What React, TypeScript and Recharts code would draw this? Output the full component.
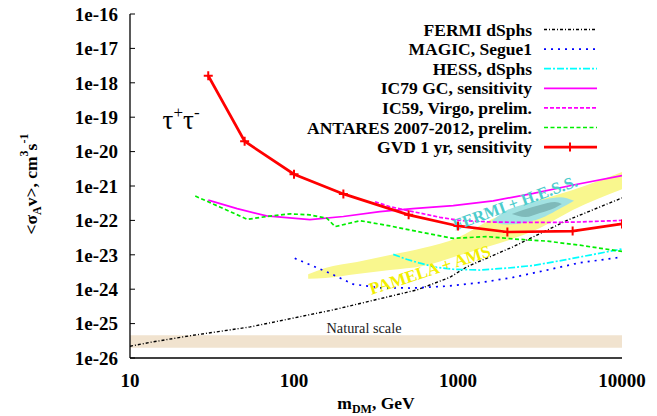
import React from "react";
import {
  ComposedChart,
  Line,
  Area,
  XAxis,
  YAxis,
  ReferenceArea,
  ReferenceDot,
  Legend,
} from "recharts";

const FONT = "'Liberation Serif', 'Times New Roman', serif";

// axis ticks
const massTicks = [10, 100, 1000, 10000];
const massMinorTicks = [
  20, 30, 40, 50, 60, 70, 80, 90, 200, 300, 400, 500, 600, 700, 800, 900,
  2000, 3000, 4000, 5000, 6000, 7000, 8000, 9000,
];
const sigmaTicks = [1e-26, 1e-25, 1e-24, 1e-23, 1e-22, 1e-21, 1e-20, 1e-19, 1e-18, 1e-17, 1e-16];

// FERMI dSphs
const fermiMass = [10, 13, 23, 54, 173, 560, 890, 1135, 2160, 4620, 10000];
const fermiSigma = [2.2e-26, 2.8e-26, 4.4e-26, 8e-26, 2.5e-25, 9.5e-25, 2.2e-24, 4.5e-24, 1.7e-23, 1.0e-22, 4.5e-22];

// MAGIC, Segue1
const magicMass = [101, 166, 229, 334, 530, 857, 1360, 2160, 3490, 5540, 8810, 10000];
const magicSigma = [7.9e-24, 2.9e-24, 1.4e-24, 1.1e-24, 1.08e-24, 1.23e-24, 1.55e-24, 2.2e-24, 3.6e-24, 5.9e-24, 7.9e-24, 8.6e-24];

// HESS, dSphs
const hessMass = [403, 486, 587, 741, 935, 1360, 1980, 2880, 4390, 6380, 10000];
const hessSigma = [1.03e-23, 7.4e-24, 5.7e-24, 4.3e-24, 3.8e-24, 3.6e-24, 4.1e-24, 4.9e-24, 7.0e-24, 9.8e-24, 1.48e-23];

// IC79 GC, sensitivity
const ic79Mass = [30, 45, 68, 125, 200, 334, 530, 935, 1640, 2880, 5050, 10000];
const ic79Sigma = [3.9e-22, 2.2e-22, 1.35e-22, 1.05e-22, 1.3e-22, 1.8e-22, 2.2e-22, 2.7e-22, 3.7e-22, 6.1e-22, 1.07e-21, 2.0e-21];

// IC59, Virgo, prelim.
const ic59Mass = [312, 385, 530, 776, 1020, 1640, 3470, 5540, 10000];
const ic59Sigma = [3.5e-22, 2.5e-22, 1.8e-22, 1.23e-22, 1.0e-22, 8.9e-23, 8.7e-23, 9.0e-23, 1.0e-22];

// ANTARES 2007-2012, prelim.
const antaresMass = [25, 35, 52, 68, 95, 125, 159, 178, 253, 385, 614, 935, 1500, 2160, 3470, 5540, 10000];
const antaresSigma = [5.1e-22, 2.5e-22, 1.07e-22, 1.3e-22, 1.55e-22, 1.45e-22, 1.15e-22, 6.6e-23, 9.8e-23, 6.9e-23, 4.4e-23, 3.0e-23, 3.4e-23, 2.9e-23, 2.5e-23, 1.9e-23, 1.25e-23];

// GVD 1 yr, sensitivity
const gvdMass = [30, 50, 100, 200, 500, 1000, 2000, 5000, 10000];
const gvdSigma = [1.6e-18, 2.0e-20, 2.2e-21, 5.9e-22, 1.45e-22, 6.9e-23, 4.6e-23, 4.9e-23, 7.9e-23];

// PAMELA + AMS region
const pamelaMass = [122, 155, 242, 385, 612, 986, 1570, 3160, 5010, 10000];
const pamelaLow = [2.0e-24, 2.12e-24, 2.77e-24, 3.6e-24, 4.7e-24, 9.2e-24, 1.8e-23, 6.0e-23, 2.0e-22, 8.0e-22];
const pamelaHigh = [2.7e-24, 4.13e-24, 6.17e-24, 9.86e-24, 1.58e-23, 3.1e-23, 1.03e-22, 3.9e-22, 7.65e-22, 2.55e-21];

// FERMI + H.E.S.S. region (outer and inner contour)
const fhOuterMass = [1600, 1940, 2570, 3400, 4190, 5100];
const fhOuterLow = [9.5e-23, 7.6e-23, 8.6e-23, 1.3e-22, 2.2e-22, 3.7e-22];
const fhOuterHigh = [9.5e-23, 1.85e-22, 3.0e-22, 4.1e-22, 4.7e-22, 3.7e-22];
const fhInnerMass = [2130, 2570, 3160, 3890, 4300];
const fhInnerLow = [1.53e-22, 1.25e-22, 1.64e-22, 2.3e-22, 3.0e-22];
const fhInnerHigh = [1.53e-22, 2.1e-22, 2.8e-22, 3.4e-22, 3.0e-22];

// natural scale band
const naturalLow = 2e-26;
const naturalHigh = 4.6e-26;

const toPoints = (xs: number[], ys: number[]) => xs.map((x, i) => ({ x, y: ys[i] }));
const toRange = (xs: number[], lo: number[], hi: number[]) =>
  xs.map((x, i) => ({ x, r: [lo[i], hi[i]] }));

const series = [
  { name: "FERMI dSphs", data: toPoints(fermiMass, fermiSigma), color: "#000000", dash: "3 2 1 2", width: 1.4 },
  { name: "MAGIC, Segue1", data: toPoints(magicMass, magicSigma), color: "#0000ff", dash: "2 5", width: 1.7 },
  { name: "HESS, dSphs", data: toPoints(hessMass, hessSigma), color: "#00ffff", dash: "7 2 2 2", width: 1.7 },
  { name: "IC79 GC, sensitivity", data: toPoints(ic79Mass, ic79Sigma), color: "#ff00ff", dash: undefined, width: 1.7 },
  { name: "IC59, Virgo, prelim.", data: toPoints(ic59Mass, ic59Sigma), color: "#ff00ff", dash: "4 2", width: 1.7 },
  { name: "ANTARES 2007-2012, prelim.", data: toPoints(antaresMass, antaresSigma), color: "#00ee00", dash: "4 2.5", width: 1.7 },
  { name: "GVD 1 yr, sensitivity", data: toPoints(gvdMass, gvdSigma), color: "#ff0000", dash: undefined, width: 2.7 },
];

const PlusDot = (props: any) => {
  const { cx, cy } = props;
  if (cx == null || cy == null) return null;
  return (
    <path
      d={`M${cx - 4.5},${cy}H${cx + 4.5}M${cx},${cy - 4.5}V${cy + 4.5}`}
      stroke="#ff0000"
      strokeWidth={2}
    />
  );
};

const tickStyle = { fill: "#000", fontSize: 19, fontWeight: "bold", fontFamily: FONT };

const LegendBox = () => (
  <svg width={657} height={160} style={{ display: "block" }}>
    {series.map((s, i) => {
      const y = 29.5 + i * 19.6;
      return (
        <g key={s.name}>
          <text x={532} y={y + 6} textAnchor="end" fontFamily={FONT} fontWeight="bold" fontSize={17.5} fill="#000">
            {s.name}
          </text>
          <line x1={544} x2={597} y1={y} y2={y} stroke={s.color} strokeWidth={s.width} strokeDasharray={s.dash} />
          {s.name.startsWith("GVD") && <PlusDot cx={570} cy={y} />}
        </g>
      );
    })}
  </svg>
);

const YTitle = ({ viewBox }: any) => {
  const x = viewBox.x + 37;
  const y = viewBox.y + viewBox.height / 2 - 2;
  return (
    <text
      transform={`translate(${x},${y}) rotate(-90)`}
      textAnchor="middle"
      fontFamily={FONT}
      fontWeight="bold"
      fontSize={17.5}
      fill="#000"
    >
      {"<σ"}
      <tspan dy={4} fontSize={12}>A</tspan>
      <tspan dy={-4}>{"v>, cm"}</tspan>
      <tspan dy={-9} fontSize={12}>3</tspan>
      <tspan dy={9}>s</tspan>
      <tspan dy={-9} fontSize={12}>-1</tspan>
    </text>
  );
};

const XTitle = ({ viewBox }: any) => {
  const x = viewBox.x + viewBox.width / 2;
  const y = viewBox.y + 51;
  return (
    <text x={x} y={y} textAnchor="middle" fontFamily={FONT} fontWeight="bold" fontSize={17.5} fill="#000">
      m
      <tspan dy={4} fontSize={12}>DM</tspan>
      <tspan dy={-4}>, GeV</tspan>
    </text>
  );
};

const TauLabel = ({ viewBox }: any) => (
  <text x={viewBox.x} y={viewBox.y} fontFamily={FONT} fontSize={27} fill="#000">
    τ
    <tspan dy={-11} fontSize={17}>+</tspan>
    <tspan dy={11}>τ</tspan>
    <tspan dy={-11} fontSize={17}>-</tspan>
  </text>
);

const tiltedLabel = (text: string, color: string, angle: number, size: number) => ({ viewBox }: any) => (
  <text
    transform={`translate(${viewBox.x},${viewBox.y}) rotate(${angle})`}
    textAnchor="middle"
    dominantBaseline="central"
    fontFamily={FONT}
    fontWeight="bold"
    fontSize={size}
    fill={color}
  >
    {text}
  </text>
);

export default function App() {
  return (
    <div style={{ position: "absolute", left: 0, top: 0, background: "#fff" }}>
      <ComposedChart width={657} height={416} margin={{ top: 14, right: 35, bottom: 0, left: 0 }}>
        <XAxis
          dataKey="x"
          type="number"
          scale="log"
          domain={[10, 10000]}
          allowDataOverflow
          ticks={massTicks}
          height={58}
          tickLine={false}
          tickSize={0}
          tickMargin={16}
          axisLine={{ stroke: "#000", strokeWidth: 1.3 }}
          tick={tickStyle}
          label={{ content: (p: any) => <XTitle {...p} /> }}
        />
        <XAxis
          xAxisId="top"
          orientation="top"
          type="number"
          scale="log"
          domain={[10, 10000]}
          allowDataOverflow
          ticks={massMinorTicks}
          height={0}
          tickSize={-3}
          tick={false}
          tickLine={{ stroke: "#000" }}
          axisLine={{ stroke: "#000", strokeWidth: 1.3 }}
        />
        <XAxis
          xAxisId="topMajor"
          orientation="top"
          type="number"
          scale="log"
          domain={[10, 10000]}
          allowDataOverflow
          ticks={massTicks}
          height={0}
          tickSize={-6}
          tick={false}
          tickLine={{ stroke: "#000" }}
          axisLine={false}
        />
        <YAxis
          type="number"
          scale="log"
          domain={[1e-26, 1e-16]}
          allowDataOverflow
          ticks={sigmaTicks}
          width={130}
          tickSize={-5}
          tickMargin={17}
          tickLine={{ stroke: "#000" }}
          axisLine={{ stroke: "#000", strokeWidth: 1.3 }}
          tick={tickStyle}
          tickFormatter={(v: number) => `1e${Math.round(Math.log10(v))}`}
          label={{ content: (p: any) => <YTitle {...p} /> }}
        />
        <YAxis
          yAxisId="right"
          orientation="right"
          type="number"
          scale="log"
          domain={[1e-26, 1e-16]}
          allowDataOverflow
          ticks={sigmaTicks}
          width={0}
          tickSize={-5}
          tick={false}
          tickLine={{ stroke: "#000" }}
          axisLine={{ stroke: "#000", strokeWidth: 1.3 }}
        />

        <ReferenceArea
          x1={10}
          x2={10000}
          y1={naturalLow}
          y2={naturalHigh}
          fill="#f1e3cf"
          fillOpacity={1}
          stroke="none"
          label={{
            value: "Natural scale",
            position: "top",
            offset: 2,
            dx: -12,
            fill: "#222",
            fontSize: 14.3,
            fontFamily: FONT,
          }}
        />

        <Area
          data={toRange(pamelaMass, pamelaLow, pamelaHigh)}
          dataKey="r"
          type="monotone"
          fill="#f9f78e"
          fillOpacity={1}
          stroke="none"
          legendType="none"
          isAnimationActive={false}
        />
        <Area
          data={toRange(fhOuterMass, fhOuterLow, fhOuterHigh)}
          dataKey="r"
          type="monotone"
          fill="#a2e2e2"
          fillOpacity={1}
          stroke="none"
          legendType="none"
          isAnimationActive={false}
        />
        <Area
          data={toRange(fhInnerMass, fhInnerLow, fhInnerHigh)}
          dataKey="r"
          type="monotone"
          fill="#7fbaba"
          fillOpacity={1}
          stroke="none"
          legendType="none"
          isAnimationActive={false}
        />

        <ReferenceDot
          x={2230}
          y={3.2e-22}
          r={0}
          fill="none"
          stroke="none"
          label={{ content: tiltedLabel("FERMI + H.E.S.S.", "#4ccccc", -20, 16.5) }}
        />
        <ReferenceDot
          x={675}
          y={3.6e-24}
          r={0}
          fill="none"
          stroke="none"
          label={{ content: tiltedLabel("PAMELA + AMS", "#f2ee00", -18, 17) }}
        />
        <ReferenceDot
          x={15.8}
          y={4.4e-20}
          r={0}
          fill="none"
          stroke="none"
          label={{ content: (p: any) => <TauLabel {...p} /> }}
        />

        {series.map((s) => (
          <Line
            key={s.name}
            name={s.name}
            data={s.data}
            dataKey="y"
            type="linear"
            stroke={s.color}
            strokeWidth={s.width}
            strokeDasharray={s.dash}
            dot={s.name.startsWith("GVD") ? (p: any) => <PlusDot key={p.index} {...p} /> : false}
            activeDot={false}
            isAnimationActive={false}
          />
        ))}

        <Legend
          layout="vertical"
          align="center"
          verticalAlign="middle"
          wrapperStyle={{ position: "absolute", left: 0, top: 0, width: 657, height: 160 }}
          content={() => <LegendBox />}
        />
      </ComposedChart>
    </div>
  );
}
